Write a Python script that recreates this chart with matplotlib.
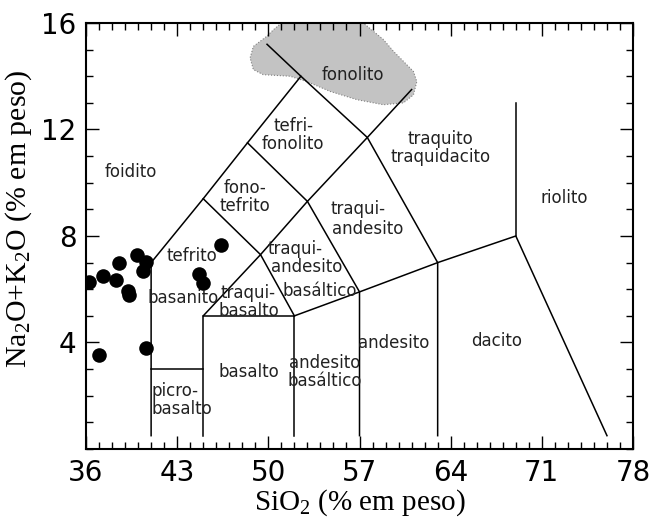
import matplotlib
matplotlib.use("Agg")
import matplotlib.pyplot as plt
from matplotlib.ticker import MultipleLocator

plt.rcParams['mathtext.fontset'] = 'custom'
plt.rcParams['mathtext.rm'] = 'Liberation Serif'
plt.rcParams['mathtext.it'] = 'Liberation Serif:italic'

# amostras (SiO2, Na2O+K2O)
sio2 = [36.25, 37.33, 38.28, 38.53, 39.2, 39.3, 39.94, 40.58, 40.4, 37.0, 40.6, 46.37, 44.7, 44.96]
alcalis = [6.27, 6.5, 6.33, 6.98, 5.95, 5.8, 7.3, 7.03, 6.67, 3.52, 3.81, 7.66, 6.57, 6.23]

x_ticks = [36, 43, 50, 57, 64, 71, 78]
y_ticks = [4, 8, 12, 16]

# limites do diagrama TAS (Le Bas et al. 1986)
limites = [
    [(41, 0.5), (41, 7), (45, 9.4), (48.4, 11.5), (52.5, 14), (49.9, 15.2)],
    [(41, 3), (45, 3)],
    [(45, 0.5), (45, 5), (52, 5), (52, 0.5)],
    [(45, 5), (49.4, 7.3), (52, 5)],
    [(52, 5), (57, 5.9), (63, 7), (69, 8), (76, 0.5)],
    [(57, 0.5), (57, 5.9), (53, 9.3), (48.4, 11.5)],
    [(63, 0.5), (63, 7), (57.6, 11.7), (52.5, 14)],
    [(45, 9.4), (49.4, 7.3), (53, 9.3), (57.6, 11.7), (61, 13.5)],
    [(69, 8), (69, 13)],
]

# campo sombreado do fonolito
blob_x = [51.0, 50.4, 49.88, 48.85, 48.6, 48.85, 49.6, 51.67, 52.95, 54.74, 56.8, 58.83,
          60.37, 61.14, 61.4, 61.14, 60.37, 59.6, 58.83, 58.06, 57.3]
blob_y = [16.0, 15.75, 15.5, 15.12, 14.69, 14.25, 14.06, 14.0, 13.8, 13.43, 13.12, 12.93,
          13.0, 13.3, 13.8, 14.18, 14.56, 14.94, 15.38, 15.69, 16.0]

# rótulos dos campos: (texto, x, y, alinhamento)
rotulos = [
    ("fonolito", 56.5, 14.06, 'center'),
    ("foidito", 39.46, 10.4, 'center'),
    ("tefri-\nfonolito", 51.9, 11.8, 'center'),
    ("fono-\ntefrito", 48.2, 9.48, 'center'),
    ("tefrito", 44.1, 7.23, 'center'),
    ("basanito", 43.47, 5.66, 'center'),
    ("picro-\nbasalto", 41.0, 1.84, 'left'),
    ("basalto", 48.47, 2.9, 'center'),
    ("traqui-\nbasalto", 48.47, 5.51, 'center'),
    ("traqui-", 52.05, 7.5, 'center'),
    ("andesito", 52.95, 6.85, 'center'),
    ("basáltico", 53.97, 5.95, 'center'),
    ("traqui-", 56.9, 9.0, 'center'),
    ("andesito", 57.6, 8.26, 'center'),
    ("traquito\ntraquidacito", 63.2, 11.3, 'center'),
    ("riolito", 72.74, 9.42, 'center'),
    ("andesito", 59.65, 3.97, 'center'),
    ("andesito\nbasáltico", 54.35, 2.9, 'center'),
    ("dacito", 67.54, 4.07, 'center'),
]

fig = plt.figure(figsize=(6.51, 5.19), dpi=100)
ax = fig.add_axes([0.1321, 0.1349, 0.8403, 0.8208])

ax.fill(blob_x, blob_y, facecolor='#c3c3c3', edgecolor='#808080', linestyle=':', linewidth=0.8, zorder=1)

for linha in limites:
    xs = [p[0] for p in linha]
    ys = [p[1] for p in linha]
    ax.plot(xs, ys, color='black', linewidth=1.1, zorder=2)

for texto, x, y, ha in rotulos:
    ax.text(x, y, texto, ha=ha, va='center', fontsize=12, color='#222222',
            linespacing=1.0, zorder=3)

ax.scatter(sio2, alcalis, s=110, color='black', zorder=4, linewidths=0)

ax.set_xlim(36, 78)
ax.set_ylim(0, 16)
ax.set_xticks(x_ticks)
ax.set_yticks(y_ticks)
ax.xaxis.set_minor_locator(MultipleLocator(1))
ax.yaxis.set_minor_locator(MultipleLocator(1))
ax.tick_params(which='both', direction='in', top=True, right=True, width=1.0)
ax.tick_params(which='major', length=9.5, labelsize=20, pad=7)
ax.tick_params(which='minor', length=5)
for s in ax.spines.values():
    s.set_linewidth(1.5)

ax.set_xlabel(r"SiO$_2$ (% em peso)", fontsize=21, family='Liberation Serif')
ax.set_ylabel(r"Na$_2$O+K$_2$O (% em peso)", fontsize=21.5, family='Liberation Serif')
ax.xaxis.set_label_coords(0.5, -0.09)
ax.yaxis.set_label_coords(-0.095, 0.54)

fig.savefig("out.png", dpi=100)
